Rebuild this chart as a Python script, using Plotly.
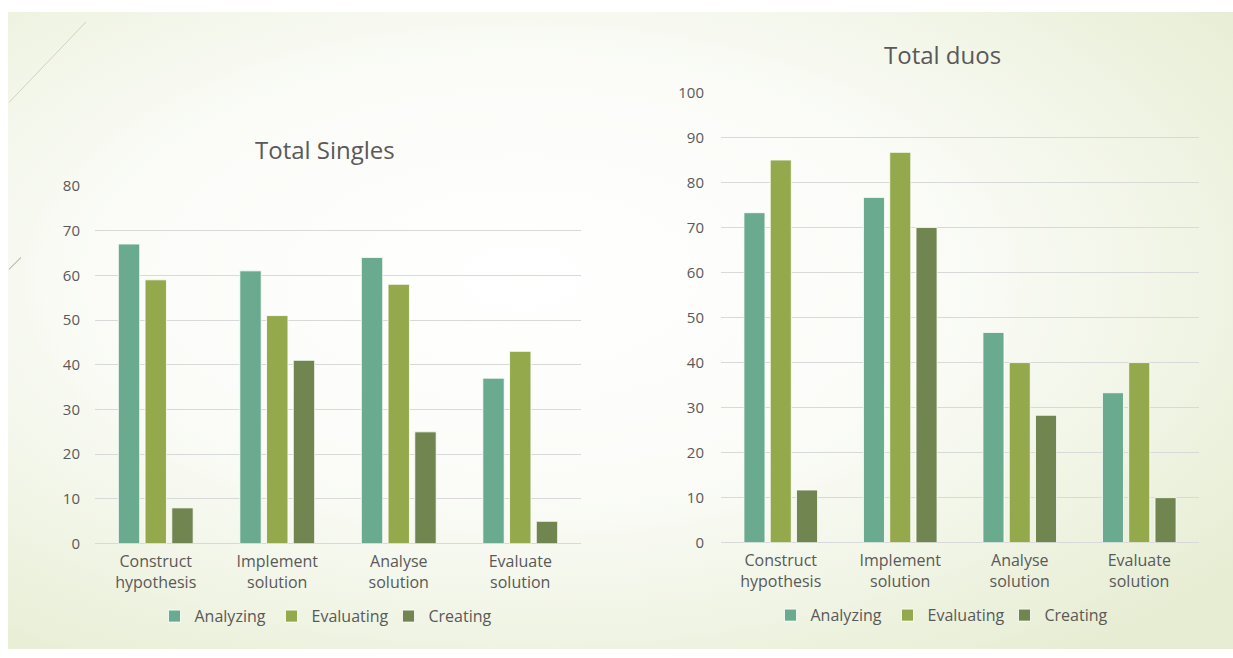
import plotly.graph_objects as go
import base64

categories = ["Construct<br>hypothesis", "Implement<br>solution", "Analyse<br>solution", "Evaluate<br>solution"]
series_names = ["Analyzing", "Evaluating", "Creating"]
singles_analyzing = [67, 61, 64, 37]
singles_evaluating = [59, 51, 58, 43]
singles_creating = [8, 41, 25, 5]
duos_analyzing = [73.3, 76.7, 46.7, 33.3]
duos_evaluating = [85, 86.7, 40, 40]
duos_creating = [11.7, 70, 28.3, 10]
colors = ["#6aab8f", "#93a94b", "#718550"]

W, H = 1233, 658
FONT = "Open Sans"
GREY = "#595959"
VS = 642 / 658  # observed vertical scale of the rendered page
VOFF = 8


def px(x):
    return x / W


def py(y):
    return 1 - ((y - VOFF) / VS) / H


fig = go.Figure()

singles = [singles_analyzing, singles_evaluating, singles_creating]
duos = [duos_analyzing, duos_evaluating, duos_creating]
for i, name in enumerate(series_names):
    fig.add_trace(go.Bar(x=categories, y=singles[i], name=name, xaxis="x", yaxis="y",
                         marker=dict(color=colors[i], line=dict(color="rgba(255,255,255,0.8)", width=1)),
                         legend="legend"))
for i, name in enumerate(series_names):
    fig.add_trace(go.Bar(x=categories, y=duos[i], name=name, xaxis="x2", yaxis="y2",
                         marker=dict(color=colors[i], line=dict(color="rgba(255,255,255,0.8)", width=1)),
                         legend="legend2"))

svg = f'''<svg xmlns="http://www.w3.org/2000/svg" width="{W}" height="{H}" viewBox="0 0 {W} {H}" preserveAspectRatio="none">
<defs><radialGradient id="g" cx="0.42" cy="0.42" r="0.75">
<stop offset="0" stop-color="#ffffff"/><stop offset="0.45" stop-color="#fbfcf8"/><stop offset="1" stop-color="#e6edd2"/>
</radialGradient></defs>
<rect x="0" y="0" width="{W}" height="{H}" fill="url(#g)"/>
</svg>'''
src = "data:image/svg+xml;base64," + base64.b64encode(svg.encode()).decode()

axis_font = dict(family=FONT, size=15, color=GREY)
cat_font = dict(family=FONT, size=16, color=GREY)
leg_font = dict(family=FONT, size=16, color=GREY)

top = py(9)
bot = max(py(656), 0)

fig.update_layout(
    width=W, height=H,
    margin=dict(l=0, r=0, t=0, b=0),
    paper_bgcolor="white", plot_bgcolor="rgba(0,0,0,0)",
    barmode="group", bargap=0.34, bargroupgap=0.2,
    font=dict(family=FONT, color=GREY),
    images=[dict(source=src, xref="paper", yref="paper", x=px(8), y=top,
                 sizex=px(W - 8), sizey=top - bot, sizing="stretch", layer="below",
                 xanchor="left", yanchor="top")],
    xaxis=dict(domain=[px(95), px(581)], anchor="y", tickfont=cat_font, showgrid=False,
               ticks="outside", ticklen=3, tickcolor="rgba(0,0,0,0)", showline=False),
    yaxis=dict(domain=[py(544), py(184)], range=[0, 80], dtick=10, anchor="x", tickfont=axis_font,
               gridcolor="#d9d9d9", gridwidth=1, zeroline=True, zerolinecolor="#d9d9d9", zerolinewidth=1,
               ticks="outside", ticklen=11, tickcolor="rgba(0,0,0,0)", showline=False),
    xaxis2=dict(domain=[px(721), px(1199)], anchor="y2", tickfont=cat_font, showgrid=False,
                ticks="outside", ticklen=3, tickcolor="rgba(0,0,0,0)", showline=False),
    yaxis2=dict(domain=[py(543), py(90)], range=[0, 100], dtick=10, anchor="x2", tickfont=axis_font,
                gridcolor="#d9d9d9", gridwidth=1, zeroline=True, zerolinecolor="#d9d9d9", zerolinewidth=1,
                ticks="outside", ticklen=13, tickcolor="rgba(0,0,0,0)", showline=False),
    legend=dict(orientation="h", x=px(330), y=py(617), xanchor="center", yanchor="middle",
                font=leg_font, bgcolor="rgba(0,0,0,0)", itemwidth=30, tracegroupgap=0,
                entrywidth=72, entrywidthmode="pixels"),
    legend2=dict(orientation="h", x=px(946), y=py(616), xanchor="center", yanchor="middle",
                 font=leg_font, bgcolor="rgba(0,0,0,0)", itemwidth=30, tracegroupgap=0,
                 entrywidth=72, entrywidthmode="pixels"),
    annotations=[
        dict(text="Total Singles", x=px(325), y=py(147), xref="paper", yref="paper", showarrow=False,
             font=dict(family=FONT, size=24, color=GREY), xanchor="center", yanchor="middle"),
        dict(text="Total duos", x=px(942), y=py(52), xref="paper", yref="paper", showarrow=False,
             font=dict(family=FONT, size=24, color=GREY), xanchor="center", yanchor="middle"),
    ],
    shapes=[
        dict(type="line", xref="paper", yref="paper", x0=px(86), y0=py(19), x1=px(9), y1=py(100),
             line=dict(color="#cfd3c4", width=1)),
        dict(type="line", xref="paper", yref="paper", x0=px(21), y0=py(256), x1=px(9), y1=py(268),
             line=dict(color="#9aa08c", width=1)),
    ],
)

fig.write_html("out.html",
               post_script="document.documentElement.style.margin='0';document.body.style.margin='0';"
                           "document.body.style.padding='0';document.body.style.overflow='hidden';")
